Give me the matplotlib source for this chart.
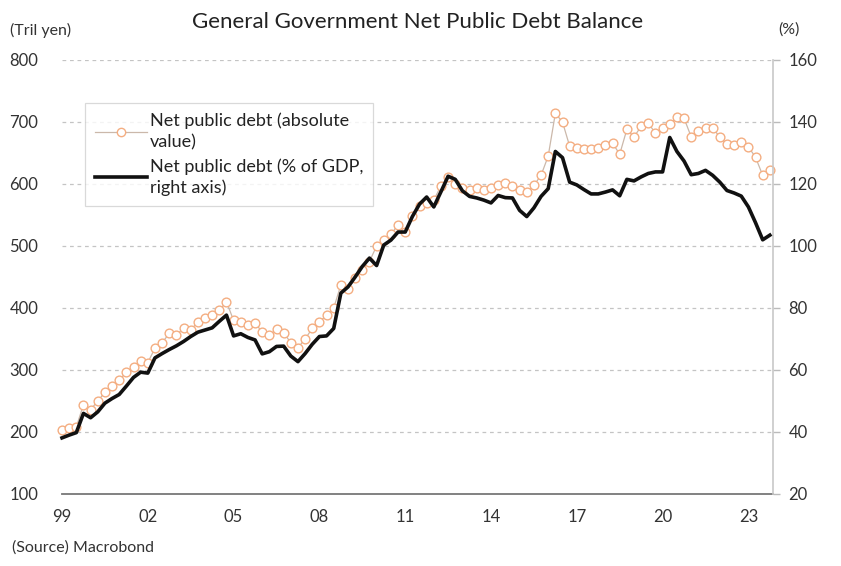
import matplotlib
matplotlib.use("Agg")
import matplotlib.pyplot as plt
import numpy as np
from matplotlib.lines import Line2D

plt.rcParams['font.family'] = ['Lato', 'DejaVu Sans']

# Quarterly observations, 1999 Q1 .. 2023 Q4
start_year = 1999
debt_tril_yen = [
    203, 206, 208, 244, 236, 250, 264, 275, 284, 296,
    305, 315, 312, 335, 344, 359, 356, 368, 365, 377,
    384, 388, 396, 410, 380, 378, 373, 376, 361, 356,
    366, 360, 344, 336, 350, 367, 378, 388, 400, 437,
    430, 448, 462, 475, 500, 510, 519, 534, 522, 548,
    565, 570, 574, 597, 611, 600, 593, 590, 593, 591,
    593, 598, 601, 596, 590, 587, 598, 614, 645, 714,
    700, 661, 658, 657, 656, 658, 663, 666, 648, 688,
    676, 693, 698, 682, 690, 697, 708, 706, 676, 686,
    690, 690, 676, 664, 663, 667, 660, 643, 614, 622,
]
debt_pct_gdp = [
    38.1, 39.0, 39.8, 46.0, 44.6, 46.5, 49.3, 50.8, 52.1, 54.8,
    57.6, 59.3, 59.0, 63.9, 65.3, 66.6, 67.8, 69.2, 70.8, 72.2,
    72.9, 73.6, 75.7, 77.7, 71.0, 71.7, 70.5, 69.7, 65.2, 65.9,
    67.6, 67.7, 64.5, 62.7, 65.3, 68.3, 70.8, 71.0, 73.4, 84.8,
    86.8, 90.0, 93.4, 96.1, 93.7, 100.3, 101.9, 104.5, 104.5, 109.5,
    113.5, 115.8, 112.6, 117.5, 122.5, 121.5, 117.8, 116.0, 115.5, 114.8,
    113.9, 116.3, 115.6, 115.5, 111.5, 109.5, 112.3, 116.0, 118.5, 130.5,
    128.5, 120.6, 119.7, 118.2, 116.8, 116.8, 117.4, 118.1, 116.2, 121.5,
    121.0, 122.3, 123.4, 123.9, 123.9, 135.0, 130.5, 127.4, 123.0, 123.4,
    124.4, 122.8, 120.6, 117.9, 117.1, 116.1, 112.6, 107.5, 102.0, 103.5,
]
year_ticks = [1999, 2002, 2005, 2008, 2011, 2014, 2017, 2020, 2023]
year_labels = ['99', '02', '05', '08', '11', '14', '17', '20', '23']
left_ticks = [100, 200, 300, 400, 500, 600, 700, 800]
right_ticks = [20, 40, 60, 80, 100, 120, 140, 160]

t = start_year + np.arange(len(debt_tril_yen)) / 4.0

fig = plt.figure(figsize=(8.41, 5.66), dpi=100)
ax = fig.add_axes([62 / 841, 1 - 494 / 566, (773 - 62) / 841, (494 - 60) / 566])
ax2 = ax.twinx()

orange = '#f4ae82'
line_grey = '#cbb8aa'
ax.plot(t, debt_tril_yen, color=line_grey, lw=0.9, marker='o', ms=6.3,
        mfc='white', mec=orange, mew=1.0, clip_on=False, zorder=3)
ax2.plot(t, debt_pct_gdp, color='#111111', lw=2.6, solid_joinstyle='round',
         clip_on=False, zorder=4)

ax.set_xlim(1999, 2023.86)
ax.set_ylim(100, 800)
ax2.set_ylim(20, 160)

ax.set_yticks(left_ticks)
ax2.set_yticks(right_ticks)
ax.set_xticks(year_ticks)
ax.set_xticklabels(year_labels)

tick_color = '#333333'
ax.tick_params(axis='y', length=0, pad=17, labelsize=12, labelcolor=tick_color)
ax.tick_params(axis='x', length=0, pad=11, labelsize=12, labelcolor=tick_color)
ax2.tick_params(axis='y', length=5, width=1, color='#bbbbbb', pad=6,
                labelsize=12, labelcolor=tick_color)

for a in (ax, ax2):
    for s in ('top', 'left'):
        a.spines[s].set_visible(False)
ax2.spines['bottom'].set_visible(False)
ax.spines['right'].set_visible(False)
ax2.spines['right'].set_color('#c8c8c8')
ax2.spines['right'].set_linewidth(1.2)
ax.spines['bottom'].set_color('#777777')
ax.spines['bottom'].set_linewidth(1.3)

for v in left_ticks[1:]:
    ax.axhline(v, color='#c4c4c4', lw=0.9, ls=(0, (3, 3)), zorder=0)

fig.text(418 / 841, 1 - 22 / 566, 'General Government Net Public Debt Balance',
         ha='center', va='center', fontsize=16, color='#222222')
fig.text(10 / 841, 1 - 30 / 566, '(Tril yen)', ha='left', va='center',
         fontsize=11.5, color=tick_color)
fig.text(778 / 841, 1 - 30 / 566, '(%)', ha='left', va='center',
         fontsize=11.5, color=tick_color)
fig.text(12 / 841, 1 - 548 / 566, '(Source) Macrobond', ha='left', va='center',
         fontsize=11.5, color=tick_color)

handles = [
    Line2D([], [], color=line_grey, lw=0.9, marker='o', ms=6, mfc='white',
           mec=orange, mew=1.0),
    Line2D([], [], color='#111111', lw=2.6),
]
labels = ['Net public debt (absolute\nvalue)', 'Net public debt (% of GDP,\nright axis)']
leg = ax2.legend(handles, labels, loc='upper left',
                 bbox_to_anchor=((85 - 62) / 711, (494 - 103) / 434),
                 frameon=True, fancybox=False, fontsize=13, handlelength=2.9,
                 handletextpad=0.15, labelspacing=0.45, borderpad=0.55,
                 borderaxespad=0, labelcolor='#222222')
for txt in leg.get_texts():
    txt.set_linespacing(1.35)
leg.get_frame().set_edgecolor('#d0d0d0')
leg.get_frame().set_linewidth(0.9)

fig.savefig('out.png', dpi=100, facecolor='white')
